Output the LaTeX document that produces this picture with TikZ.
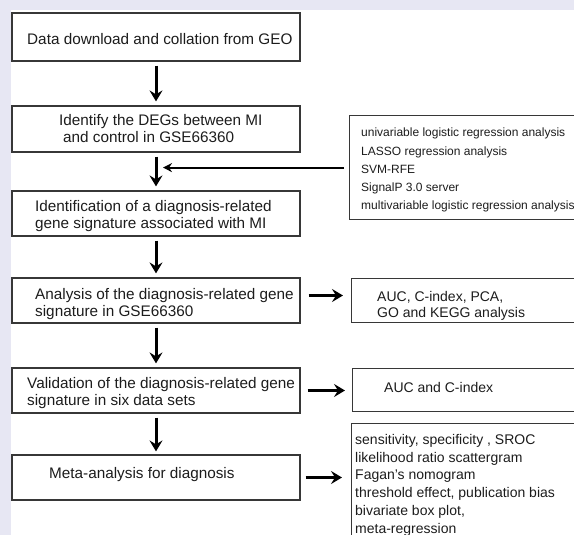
\documentclass[tikz,border=0pt]{standalone}
\usepackage{fontspec}
\setmainfont{Liberation Sans}
\usepackage{xcolor}
\usetikzlibrary{arrows.meta,positioning}

\definecolor{bgband}{RGB}{231,231,243}
\definecolor{boxline}{RGB}{55,55,55}
\definecolor{inktext}{RGB}{28,28,28}

\begin{document}
\begin{tikzpicture}[x=1pt,y=1pt,
    stagebox/.style={draw=boxline,line width=1.2pt,minimum width=288pt,inner sep=0pt},
    sidebox/.style={draw=boxline,line width=1.2pt,anchor=north west,minimum width=250pt,inner sep=0pt},
    boxtext/.style={anchor=north west,inner sep=0pt,align=left,text=inktext,font=\fontsize{15.3}{16.8}\selectfont},
    sidetext/.style={anchor=north west,inner sep=0pt,align=left,text=inktext},
    flowarrow/.style={line width=3pt,-{Stealth[length=11pt,width=13pt,inset=4pt]}},
    feedarrow/.style={line width=2pt,-{Stealth[length=9pt,width=9pt,inset=3pt]}}]
			\useasboundingbox (0,0) rectangle (574,-535);
			\fill[bgband] (0,0) rectangle (574,-10);
			\fill[bgband] (0,0) rectangle (11,-535);
			% main column
			\node[stagebox,minimum height=48pt] (s1) at (156,-37) {};
			\node[stagebox,minimum height=46pt] (s2) at (156,-129) {};
			\node[stagebox,minimum height=45pt] (s3) at (156,-213.5) {};
			\node[stagebox,minimum height=45pt] (s4) at (156,-300.5) {};
			\node[stagebox,minimum height=45pt] (s5) at (156,-390.5) {};
			\node[stagebox,minimum height=45pt] (s6) at (156,-477.5) {};
			\node[boxtext] (t1) at (27,-33) {Data download and collation from GEO};
			\node[boxtext] (t2) at (59,-114) {Identify the DEGs between MI\\\hspace*{4pt}and control in GSE66360};
			\node[boxtext] (t3) at (35,-200) {Identification of a diagnosis-related\\gene signature associated with MI};
			\node[boxtext] (t4) at (35,-288) {Analysis of the diagnosis-related gene\\signature in GSE66360};
			\node[boxtext] (t5) at (27,-377) {Validation of the diagnosis-related gene\\signature in six data sets};
			\node[boxtext] (t6) at (49,-467) {Meta-analysis for diagnosis};
			% side boxes
			\node[sidebox,minimum height=104pt] (m1) at (349,-115) {};
			\node[sidebox,minimum height=44pt] (r2) at (351,-278) {};
			\node[sidebox,minimum height=43pt] (r3) at (352,-368) {};
			\node[sidebox,minimum height=140pt] (r4) at (351,-423) {};
			\node[sidetext,font=\fontsize{12}{18.2}\selectfont] (u1) at (361,-128) {univariable logistic regression analysis\\LASSO regression analysis\\SVM-RFE\\SignalP 3.0 server\\multivariable logistic regression analysis};
			\node[sidetext,font=\fontsize{14}{16}\selectfont] (u2) at (377,-291) {AUC, C-index, PCA,\\GO and KEGG analysis};
			\node[sidetext,font=\fontsize{14}{16}\selectfont] (u3) at (384,-382) {AUC and C-index};
			\node[sidetext,font=\fontsize{14}{17.8}\selectfont] (u4) at (355,-434) {sensitivity, specificity , SROC\\likelihood ratio scattergram\\Fagan’s nomogram\\threshold effect, publication bias\\bivariate box plot,\\meta-regression};
			% arrows
			\draw[flowarrow,shorten <=4pt,shorten >=4pt] (s1) -- (s2);
			\draw[flowarrow,shorten <=4pt,shorten >=4pt] (s2) -- (s3);
			\draw[flowarrow,shorten <=4pt,shorten >=4pt] (s3) -- (s4);
			\draw[flowarrow,shorten <=4pt,shorten >=4pt] (s4) -- (s5);
			\draw[flowarrow,shorten <=4pt,shorten >=3pt] (s5) -- (s6);
			\draw[feedarrow,shorten <=5pt,shorten >=7pt] (m1.west) -- (m1.west -| s2.south);
			\draw[flowarrow,shorten <=8pt,shorten >=8pt] ([yshift=5pt]s4.east) -- ([yshift=5pt]s4.east -| r2.west);
			\draw[flowarrow,shorten <=7pt,shorten >=7pt] (s5.east) -- (s5.east -| r3.west);
			\draw[flowarrow,shorten <=5pt,shorten >=9pt] (s6.east) -- (s6.east -| r4.west);
		\end{tikzpicture}
\end{document}
